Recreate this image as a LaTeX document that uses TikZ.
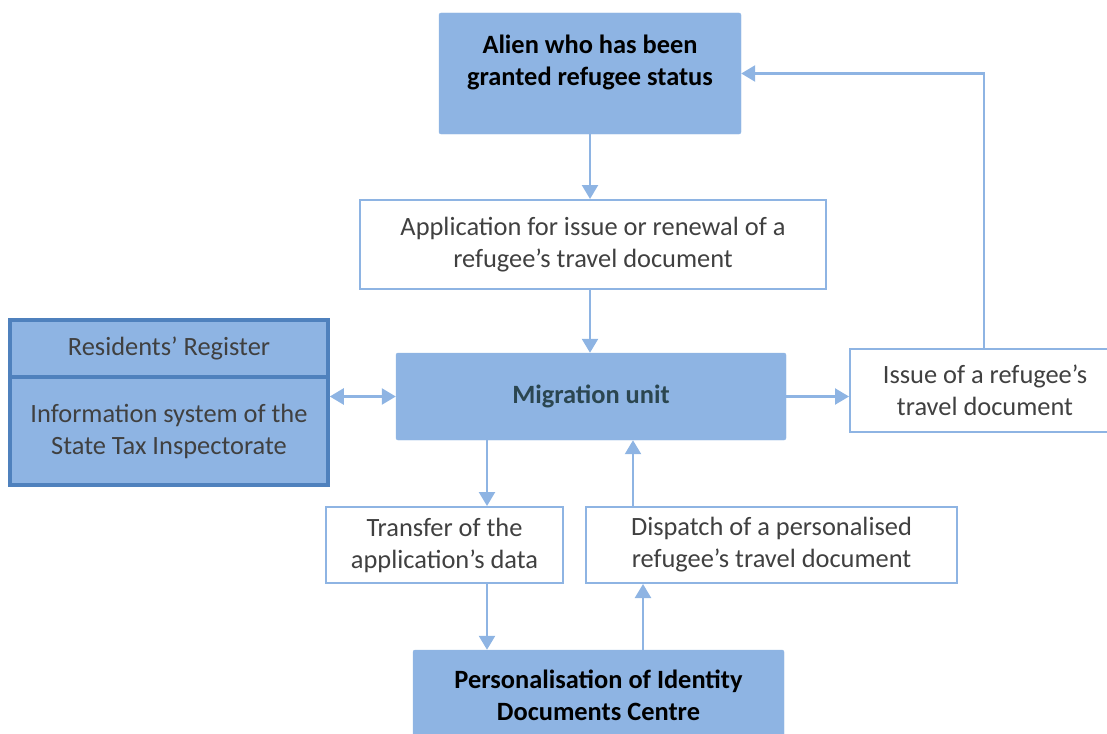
\documentclass[tikz,border=0pt]{standalone}
\usepackage{fontspec}
\setmainfont{Carlito}
\usetikzlibrary{arrows.meta}
\definecolor{boxblue}{HTML}{8EB4E3}
\definecolor{edgeblue}{HTML}{4F81BD}
\definecolor{txtgray}{HTML}{404040}
\definecolor{unitdark}{HTML}{2B4650}
\tikzset{
  filled/.style={fill=boxblue,draw=boxblue,rounded corners=2pt,align=center,inner sep=0pt},
  plain/.style={fill=white,draw=boxblue,line width=2pt,align=center,inner sep=0pt,text=txtgray},
  register/.style={fill=boxblue,draw=edgeblue,line width=3.5pt,align=center,inner sep=0pt,text=txtgray},
  arr/.style={draw=boxblue,line width=2.4pt,-{Triangle[length=14pt,width=16pt]}},
  darr/.style={draw=boxblue,line width=2.4pt,{Triangle[length=14pt,width=16pt]}-{Triangle[length=14pt,width=16pt]}}
}
\begin{document}
\begin{tikzpicture}[x=1pt,y=-1pt,font=\fontsize{26.4}{32}\selectfont]
\useasboundingbox (0,0) rectangle (1107,733);
\begin{scope}
\clip (0,0) rectangle (1107,733);
\node[filled,minimum width=302pt,minimum height=121pt] (alien) at (590,73.5) {\textbf{Alien who has been}\\\textbf{granted refugee status}\\[-6pt]\mbox{}};
\node[plain,minimum width=466pt,minimum height=89pt] (app) at (593,244.5) {Application for issue or renewal of a\\refugee’s travel document};
\node[filled,minimum width=390pt,minimum height=87pt,text=unitdark] (migr) at (591,396.5) {\textbf{Migration unit}};
\node[register,minimum width=318pt,minimum height=57pt] (reg) at (169,348.5) {Residents’ Register};
\node[register,minimum width=318pt,minimum height=108pt] (ist) at (169,431) {Information system of the\\State Tax Inspectorate};
\node[plain,minimum width=270pt,minimum height=83pt] (issue) at (985,390.5) {Issue of a refugee’s\\travel document};
\node[plain,minimum width=237pt,minimum height=76pt] (trans) at (444.5,545) {Transfer of the\\application’s data};
\node[plain,minimum width=371pt,minimum height=76pt] (disp) at (771.5,545) {Dispatch of a personalised\\refugee’s travel document};
\node[filled,minimum width=371pt,minimum height=91pt] (pers) at (598.5,695.5) {\textbf{Personalisation of Identity}\\\textbf{Documents Centre}};
\end{scope}
\coordinate (xt) at (487,0);
\coordinate (xd) at (633,0);
\coordinate (xp) at (643,0);
\coordinate (xi) at (984,0);
% connectors
\draw[arr] (alien.south) -- (alien.south |- app.north);
\draw[arr] (app.south -| alien.south) -- (migr.north -| alien.south);
\draw[darr] (migr.west) -- (migr.west -| ist.east);
\draw[arr] (migr.east) -- (migr.east -| issue.west);
\draw[arr] (issue.north -| xi) |- (alien.east);
\draw[arr] (migr.south -| xt) -- (trans.north -| xt);
\draw[arr] (trans.south -| xt) -- (pers.north -| xt);
\draw[arr] (pers.north -| xp) -- (disp.south -| xp);
\draw[arr] (disp.north -| xd) -- (migr.south -| xd);
\end{tikzpicture}
\end{document}
